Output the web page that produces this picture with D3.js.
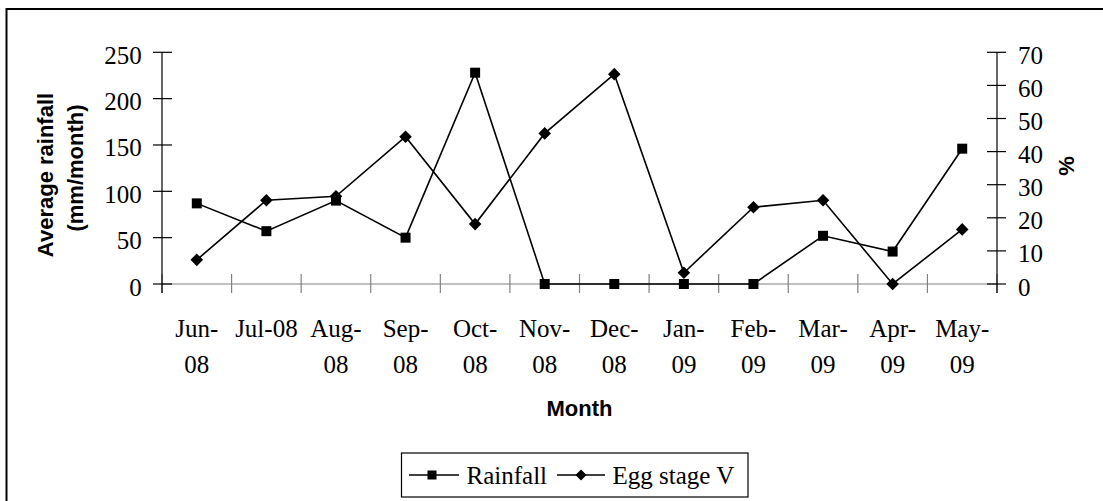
<!DOCTYPE html>
<html>
<head>
<meta charset="utf-8">
<script src="https://cdn.jsdelivr.net/npm/d3@7/dist/d3.min.js"></script>
<style>
  html, body { margin: 0; padding: 0; background: #fff; }
  svg { display: block; }
</style>
</head>
<body>
<script>
// ---- data ----
const months = ["Jun-08","Jul-08","Aug-08","Sep-08","Oct-08","Nov-08","Dec-08","Jan-09","Feb-09","Mar-09","Apr-09","May-09"];
const monthLabels = ["Jun-\n08","Jul-08","Aug-\n08","Sep-\n08","Oct-\n08","Nov-\n08","Dec-\n08","Jan-\n09","Feb-\n09","Mar-\n09","Apr-\n09","May-\n09"];
const rainfall = [87, 57, 90, 50, 228, 0, 0, 0, 0, 52, 35, 146];
const eggStageV = [7.3, 25.3, 26.5, 44.5, 18.1, 45.5, 63.4, 3.4, 23.2, 25.3, 0, 16.5];
const leftTicks = [0, 50, 100, 150, 200, 250];
const rightTicks = [0, 10, 20, 30, 40, 50, 60, 70];
const seriesNames = ["Rainfall", "Egg stage V"];

(function () {
const W = 1103, H = 501;
const svg = d3.select("body").append("svg").attr("width", W).attr("height", H);

// outer border
svg.append("rect").attr("x", 6.5).attr("y", 9).attr("width", 1120).attr("height", 520)
  .attr("fill", "none").attr("stroke", "#000").attr("stroke-width", 2);

const pL = 162, pR = 997, pT = 52.3, pB = 284;
const x = d3.scaleBand().domain(months).range([pL, pR]).padding(0);
const yL = d3.scaleLinear().domain([0, 250]).range([pB, pT]);
const yR = d3.scaleLinear().domain([0, 70]).range([pB, pT]);
const cx = d => x(d) + x.bandwidth() / 2;

const serif = "'Liberation Serif', 'Times New Roman', serif";
const sans = "'Liberation Sans', Arial, sans-serif";

// x axis (gray) with crossing ticks
const gx = svg.append("g");
gx.append("line").attr("x1", pL).attr("x2", pR).attr("y1", pB).attr("y2", pB)
  .attr("stroke", "#808080").attr("stroke-width", 1.2);
const boundaries = months.map(m => x(m)).concat([pR]);
gx.selectAll("line.t").data(boundaries).enter().append("line").attr("class", "t")
  .attr("x1", d => d).attr("x2", d => d).attr("y1", pB - 10).attr("y2", pB + 9)
  .attr("stroke", "#808080").attr("stroke-width", 1.2);

// x tick labels
const xl = svg.append("g").attr("font-family", serif).attr("font-size", 25).attr("fill", "#000").attr("text-anchor", "middle");
months.forEach((m, i) => {
  const lines = monthLabels[i].split("\n");
  const t = xl.append("text").attr("x", cx(m)).attr("y", 336.7);
  lines.forEach((ln, j) => {
    t.append("tspan").attr("x", cx(m)).attr("dy", j === 0 ? 0 : 36).text(ln);
  });
});

// left axis
const gl = svg.append("g");
gl.append("line").attr("x1", pL).attr("x2", pL).attr("y1", pT).attr("y2", pB + 9)
  .attr("stroke", "#000").attr("stroke-width", 1.2);
gl.selectAll("line.t").data(leftTicks).enter().append("line").attr("class", "t")
  .attr("x1", pL - 9).attr("x2", pL + 10).attr("y1", d => yL(d)).attr("y2", d => yL(d))
  .attr("stroke", "#000").attr("stroke-width", 1.2);
gl.selectAll("text").data(leftTicks).enter().append("text")
  .attr("x", 141.7).attr("y", d => yL(d) + 11.5).attr("text-anchor", "end")
  .attr("font-family", serif).attr("font-size", 25).text(d => d);

// right axis
const gr = svg.append("g");
gr.append("line").attr("x1", pR).attr("x2", pR).attr("y1", pT).attr("y2", pB + 9)
  .attr("stroke", "#000").attr("stroke-width", 1.2);
gr.selectAll("line.t").data(rightTicks).enter().append("line").attr("class", "t")
  .attr("x1", pR - 10).attr("x2", pR + 9).attr("y1", d => yR(d)).attr("y2", d => yR(d))
  .attr("stroke", "#000").attr("stroke-width", 1.2);
gr.selectAll("text").data(rightTicks).enter().append("text")
  .attr("x", 1018).attr("y", d => yR(d) + 11.5).attr("text-anchor", "start")
  .attr("font-family", serif).attr("font-size", 25).text(d => d);

// axis titles
svg.append("text").attr("transform", "translate(52.5,175) rotate(-90)")
  .attr("text-anchor", "middle").attr("font-family", sans).attr("font-weight", "bold").attr("font-size", 22)
  .text("Average rainfall");
svg.append("text").attr("transform", "translate(82.8,168) rotate(-90)")
  .attr("text-anchor", "middle").attr("font-family", sans).attr("font-weight", "bold").attr("font-size", 22)
  .text("(mm/month)");
svg.append("text").attr("transform", "translate(1073.5,166) rotate(-90)")
  .attr("text-anchor", "middle").attr("font-family", sans).attr("font-weight", "bold").attr("font-size", 22)
  .text("%");
svg.append("text").attr("x", (pL + pR) / 2).attr("y", 416)
  .attr("text-anchor", "middle").attr("font-family", sans).attr("font-weight", "bold").attr("font-size", 22)
  .text("Month");

// series
const lineR = d3.line().x((d, i) => cx(months[i])).y(d => yL(d));
const lineE = d3.line().x((d, i) => cx(months[i])).y(d => yR(d));
svg.append("path").datum(rainfall).attr("d", lineR).attr("fill", "none").attr("stroke", "#000").attr("stroke-width", 1.6);
svg.append("path").datum(eggStageV).attr("d", lineE).attr("fill", "none").attr("stroke", "#000").attr("stroke-width", 1.6);

const sq = 10, dm = 6.3;
svg.selectAll("rect.r").data(rainfall).enter().append("rect").attr("class", "r")
  .attr("x", (d, i) => cx(months[i]) - sq / 2).attr("y", d => yL(d) - sq / 2)
  .attr("width", sq).attr("height", sq).attr("fill", "#000");
const diamond = (px, py, r) => `M${px},${py - r}L${px + r},${py}L${px},${py + r}L${px - r},${py}Z`;
svg.selectAll("path.e").data(eggStageV).enter().append("path").attr("class", "e")
  .attr("d", (d, i) => diamond(cx(months[i]), yR(d), dm)).attr("fill", "#000");

// legend
const lg = svg.append("g");
lg.append("rect").attr("x", 401.5).attr("y", 453).attr("width", 346.5).attr("height", 44)
  .attr("fill", "#fff").attr("stroke", "#000").attr("stroke-width", 1.2);
const ly = 475;
lg.append("line").attr("x1", 409).attr("x2", 459).attr("y1", ly).attr("y2", ly).attr("stroke", "#000").attr("stroke-width", 1.6);
lg.append("rect").attr("x", 432 - 4.5).attr("y", ly - 4.5).attr("width", 9).attr("height", 9).attr("fill", "#000");
lg.append("text").attr("x", 466.5).attr("y", 484).attr("font-family", serif).attr("font-size", 25).text(seriesNames[0]);
lg.append("line").attr("x1", 557).attr("x2", 605).attr("y1", ly).attr("y2", ly).attr("stroke", "#000").attr("stroke-width", 1.6);
lg.append("path").attr("d", diamond(581, ly, 5.5)).attr("fill", "#000");
lg.append("text").attr("x", 612.5).attr("y", 484).attr("font-family", serif).attr("font-size", 25).text(seriesNames[1]);
})();
</script>
</body>
</html>
